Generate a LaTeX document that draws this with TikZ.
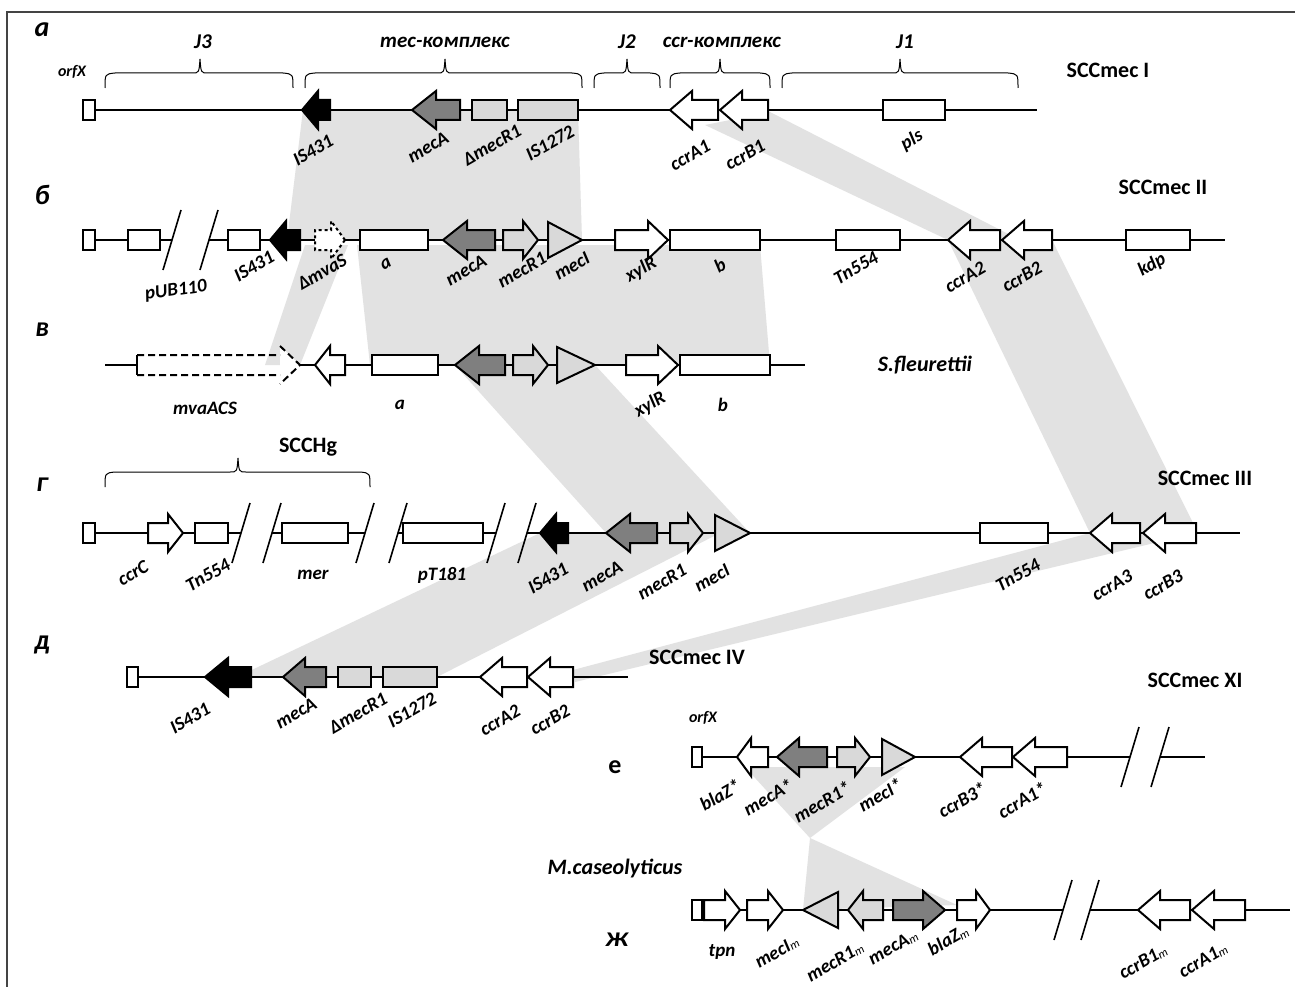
\documentclass[tikz,border=0pt]{standalone}
\usepackage{fontspec}
\setmainfont{Carlito}
\definecolor{gdark}{HTML}{7F7F7F}
\definecolor{glight}{HTML}{D9D9D9}
\definecolor{band}{HTML}{E2E2E2}
\definecolor{frame}{HTML}{444444}
% left-pointing gene: tip x, tail x, y, head length, options
\newcommand\lgene[5]{\filldraw[gene,#5] (#1,#3) -- (#1+#4,#3-19) -- (#1+#4,#3-10) -- (#2,#3-10) -- (#2,#3+10) -- (#1+#4,#3+10) -- (#1+#4,#3+19) -- cycle;}
% right-pointing gene: tail x, tip x, y, head length, options
\newcommand\rgene[5]{\filldraw[gene,#5] (#2,#3) -- (#2-#4,#3-19) -- (#2-#4,#3-10) -- (#1,#3-10) -- (#1,#3+10) -- (#2-#4,#3+10) -- (#2-#4,#3+19) -- cycle;}
\newcommand\gbox[4]{\filldraw[gene,#4] (#1,#3-10) rectangle (#2,#3+10);}
\newcommand\gtri[4]{\filldraw[gene,#4] (#1,#3-18) -- (#2,#3) -- (#1,#3+18) -- cycle;}
\newcommand\gslash[2]{\draw[slashline] (#1-9,#2+30) -- (#1+9,#2-30);}
% curly brace opening downwards: x1, x2, y of the ends, x of the tip
\newcommand\gbrace[4]{\draw[braceline] (#1,#3) .. controls (#1,#3-14) .. (#1+10,#3-15) -- (#4-8,#3-15) .. controls (#4-1,#3-15) .. (#4,#3-29) .. controls (#4+1,#3-15) .. (#4+8,#3-15) -- (#2-10,#3-15) .. controls (#2,#3-14) .. (#2,#3);}
\newcommand\sm{\raisebox{-1pt}{\fontsize{12}{12}\selectfont\mdseries m}}
\begin{document}
\begin{tikzpicture}[x=1pt,y=-1pt,
  gene/.style={draw=black,fill=white,line width=2pt,line join=miter},
  backbone/.style={draw=black,line width=1.8pt},
  slashline/.style={draw=black,line width=1.6pt},
  braceline/.style={draw=black,line width=1pt},
  shade/.style={fill=band,draw=none},
  lbl/.style={font=\fontsize{19}{19}\selectfont\bfseries\itshape,inner sep=0pt,rotate=30},
  flat/.style={font=\fontsize{19}{19}\selectfont\bfseries\itshape,inner sep=0pt},
  small/.style={font=\fontsize{16}{16}\selectfont\bfseries\itshape,inner sep=0pt},
  head/.style={font=\fontsize{21}{21}\selectfont\bfseries\itshape,inner sep=0pt},
  rowtag/.style={font=\fontsize{28}{28}\selectfont\bfseries\itshape,inner sep=0pt},
  title/.style={font=\fontsize{22}{22}\selectfont\bfseries,inner sep=0pt},
  ititle/.style={font=\fontsize{22}{22}\selectfont\bfseries\itshape,inner sep=0pt}]
\useasboundingbox (0,0) rectangle (1295,987);
\fill[white] (0,0) rectangle (1295,987);
% frame
\draw[frame,line width=2pt] (1295,12) -- (7,12) -- (7,987);

% homology bands
\fill[shade] (303,110) -- (578,110) -- (582,240) -- (287,240) -- cycle;
\fill[shade] (305,245) -- (348,245) -- (300,365) -- (265,365) -- cycle;
\fill[shade] (357,245) -- (760,245) -- (770,365) -- (370,365) -- cycle;
\fill[shade] (455,365) -- (595,365) -- (750,533) -- (606,533) -- cycle;
\fill[shade] (540,533) -- (720,533) -- (437,677) -- (237,677) -- cycle;
\fill[shade] (705,125) -- (770,112) -- (1020,240) -- (948,240) -- cycle;
\fill[shade] (948,240) -- (1052,240) -- (1198,533) -- (1090,533) -- cycle;
\fill[shade] (1090,533) -- (1196,533) -- (575,682) -- (573,670) -- cycle;
\fill[shade] (745,767) -- (905,767) -- (810,838) -- cycle;
\fill[shade] (810,838) -- (957,905) -- (803,910) -- cycle;

% ---------- row a: SCCmec I ----------
\node[rowtag] (tag-a) at (42,30) {а};
\node[small] (a-orfx) at (72,72) {orfX};
\gbrace{105}{293}{88}{200}
\gbrace{305}{582}{88}{445}
\gbrace{594}{660}{88}{627}
\gbrace{670}{770}{88}{720}
\gbrace{782}{1018}{88}{900}
\node[head] (a-j3) at (203,42) {J3};
\node[head] (a-mec) at (445,42) {mec-комплекс};
\node[head] (a-j2) at (627,42) {J2};
\node[head] (a-ccr) at (722,42) {ccr-комплекс};
\node[head] (a-j1) at (905,42) {J1};
\node[title] (a-title) at (1108,70) {SCCmec I};
\draw[backbone] (95,110) -- (1037,110);
\gbox{83}{95}{110}{}
\lgene{302}{330}{110}{16}{fill=black}
\lgene{412}{460}{110}{24}{fill=gdark}
\gbox{472}{507}{110}{fill=glight}
\gbox{518}{578}{110}{fill=glight}
\lgene{670}{718}{110}{22}{}
\lgene{720}{768}{110}{22}{}
\gbox{883}{945}{110}{}
\node[lbl] (a-is431) at (313,150) {IS431};
\node[lbl] (a-meca) at (428,147) {mecA};
\node[lbl] (a-mecr1) at (492,145) {ΔmecR1};
\node[lbl] (a-is1272) at (550,143) {IS1272};
\node[lbl] (a-ccra1) at (690,155) {ccrA1};
\node[lbl] (a-ccrb1) at (745,155) {ccrB1};
\node[lbl] (a-pls) at (912,140) {pls};

% ---------- row b: SCCmec II ----------
\node[rowtag] (tag-b) at (42,195) {б};
\node[title] (b-title) at (1163,187) {SCCmec II};
\draw[backbone] (95,240) -- (172,240);
\draw[backbone] (209,240) -- (1225,240);
\gbox{83}{95}{240}{}
\gbox{128}{160}{240}{}
\gslash{172}{240}
\gslash{209}{240}
\gbox{228}{260}{240}{}
\lgene{270}{300}{240}{16}{fill=black}
\rgene{315}{345}{240}{14}{dashed}
\gbox{360}{428}{240}{}
\lgene{443}{495}{240}{24}{fill=gdark}
\rgene{503}{538}{240}{15}{fill=glight}
\gtri{548}{582}{240}{fill=glight}
\rgene{615}{668}{240}{20}{}
\gbox{670}{760}{240}{}
\gbox{836}{900}{240}{}
\lgene{948}{1000}{240}{22}{}
\lgene{1002}{1052}{240}{22}{}
\gbox{1126}{1190}{240}{}
\node[flat,rotate=8] (b-pub) at (176,291) {pUB110};
\node[lbl] (b-is431) at (254,266) {IS431};
\node[lbl] (b-mvas) at (322,272) {ΔmvaS};
\node[lbl] (b-a) at (386,264) {a};
\node[lbl] (b-meca) at (466,270) {mecA};
\node[lbl] (b-mecr1) at (522,270) {mecR1};
\node[lbl] (b-meci) at (572,266) {mecI};
\node[lbl] (b-xylr) at (641,270) {xylR};
\node[lbl] (b-b) at (720,265) {b};
\node[lbl] (b-tn) at (856,268) {Tn554};
\node[lbl] (b-ccra2) at (965,277) {ccrA2};
\node[lbl] (b-ccrb2) at (1022,277) {ccrB2};
\node[lbl] (b-kdp) at (1152,265) {kdp};

% ---------- row c: S. fleurettii ----------
\node[rowtag] (tag-c) at (42,330) {в};
\node[ititle] (c-title) at (925,365) {S.fleurettii};
\draw[backbone] (105,365) -- (137,365);
\draw[backbone] (300,365) -- (805,365);
\draw[gene] (137,355) -- (137,375);
\draw[gene,dash pattern=on 7pt off 4pt] (137,355) -- (280,355) (137,375) -- (280,375)
  (280,346) -- (300,365) -- (280,384);
\lgene{315}{345}{365}{15}{}
\gbox{372}{438}{365}{}
\lgene{455}{505}{365}{24}{fill=gdark}
\rgene{513}{548}{365}{15}{fill=glight}
\gtri{557}{595}{365}{fill=glight}
\rgene{626}{678}{365}{20}{}
\gbox{680}{770}{365}{}
\node[flat] (c-mva) at (205,408) {mvaACS};
\node[flat] (c-a) at (400,405) {a};
\node[lbl] (c-xylr) at (650,405) {xylR};
\node[flat] (c-b) at (723,405) {b};

% ---------- row d: SCCmec III ----------
\node[rowtag] (tag-d) at (42,485) {г};
\node[title] (d-hg) at (308,447) {SCCHg};
\gbrace{105}{370}{487}{238}
\node[title] (d-title) at (1205,478) {SCCmec III};
\draw[backbone] (95,533) -- (241,533);
\draw[backbone] (272,533) -- (365,533);
\draw[backbone] (398,533) -- (496,533);
\draw[backbone] (527,533) -- (1240,533);
\gbox{83}{95}{533}{}
\rgene{148}{183}{533}{15}{}
\gbox{195}{228}{533}{}
\gslash{241}{533}
\gslash{272}{533}
\gbox{282}{348}{533}{}
\gslash{365}{533}
\gslash{398}{533}
\gbox{403}{483}{533}{}
\gslash{496}{533}
\gslash{527}{533}
\lgene{540}{568}{533}{16}{fill=black}
\lgene{606}{657}{533}{24}{fill=gdark}
\rgene{670}{703}{533}{15}{fill=glight}
\gtri{715}{750}{533}{fill=glight}
\gbox{980}{1048}{533}{}
\lgene{1090}{1140}{533}{22}{}
\lgene{1143}{1196}{533}{22}{}
\node[lbl] (d-ccrc) at (133,573) {ccrC};
\node[lbl] (d-tn1) at (208,575) {Tn554};
\node[flat] (d-mer) at (313,575) {mer};
\node[flat] (d-pt) at (442,575) {pT181};
\node[lbl] (d-is431) at (548,578) {IS431};
\node[lbl] (d-meca) at (602,576) {mecA};
\node[lbl] (d-mecr1) at (662,582) {mecR1};
\node[lbl] (d-meci) at (712,578) {mecI};
\node[lbl] (d-tn2) at (1018,575) {Tn554};
\node[lbl] (d-ccra3) at (1112,585) {ccrA3};
\node[lbl] (d-ccrb3) at (1163,585) {ccrB3};

% ---------- row e: SCCmec IV ----------
\node[rowtag] (tag-e) at (42,645) {д};
\node[title] (e-title) at (697,657) {SCCmec IV};
\draw[backbone] (138,677) -- (628,677);
\gbox{127}{138}{677}{}
\lgene{205}{251}{677}{23}{fill=black}
\lgene{283}{326}{677}{22}{fill=gdark}
\gbox{338}{371}{677}{fill=glight}
\gbox{383}{437}{677}{fill=glight}
\lgene{480}{527}{677}{22}{}
\lgene{528}{573}{677}{22}{}
\node[lbl] (e-is431) at (190,718) {IS431};
\node[lbl] (e-meca) at (296,713) {mecA};
\node[lbl] (e-mecr1) at (358,713) {ΔmecR1};
\node[lbl] (e-is1272) at (412,710) {IS1272};
\node[lbl] (e-ccra2) at (500,720) {ccrA2};
\node[lbl] (e-ccrb2) at (550,720) {ccrB2};

% ---------- row f: SCCmec XI ----------
\node[title] (f-title) at (1195,680) {SCCmec XI};
\node[small] (f-orfx) at (703,718) {orfX};
\node[font=\fontsize{26}{26}\selectfont\bfseries,inner sep=0pt] (tag-f) at (615,767) {е};
\draw[backbone] (702,757) -- (1130,757);
\draw[backbone] (1160,757) -- (1205,757);
\gbox{692}{702}{757}{}
\lgene{737}{768}{757}{14}{}
\lgene{777}{827}{757}{22}{fill=gdark}
\rgene{837}{870}{757}{15}{fill=glight}
\gtri{882}{915}{757}{fill=glight}
\lgene{960}{1012}{757}{22}{}
\lgene{1013}{1067}{757}{22}{}
\gslash{1130}{757}
\gslash{1160}{757}
\node[lbl] (f-blaz) at (720,795) {blaZ*};
\node[lbl] (f-meca) at (768,797) {mecA*};
\node[lbl] (f-mecr1) at (822,802) {mecR1*};
\node[lbl] (f-meci) at (880,795) {mecI*};
\node[lbl] (f-ccrb3) at (962,800) {ccrB3*};
\node[lbl] (f-ccra1) at (1022,800) {ccrA1*};

% ---------- row g: M. caseolyticus ----------
\node[ititle] (g-title) at (615,868) {M.caseolyticus};
\node[rowtag] (tag-g) at (617,940) {ж};
\draw[backbone] (702,910) -- (1063,910);
\draw[backbone] (1090,910) -- (1290,910);
\gbox{692}{702}{910}{}
\rgene{704}{740}{910}{15}{}
\rgene{747}{783}{910}{15}{}
\gtri{838}{803}{910}{fill=glight}
\lgene{848}{883}{910}{15}{fill=glight}
\rgene{893}{945}{910}{22}{fill=gdark}
\rgene{957}{990}{910}{14}{}
\gslash{1063}{910}
\gslash{1090}{910}
\lgene{1138}{1190}{910}{22}{}
\lgene{1192}{1245}{910}{22}{}
\node[flat] (g-tpn) at (722,952) {tpn};
\node[lbl] (g-meci) at (777,952) {mecI\sm};
\node[lbl] (g-mecr1) at (835,962) {mecR1\sm};
\node[lbl] (g-meca) at (893,947) {mecA\sm};
\node[lbl] (g-blaz) at (948,940) {blaZ\sm};
\node[lbl] (g-ccrb1) at (1143,962) {ccrB1\sm};
\node[lbl] (g-ccra1) at (1203,960) {ccrA1\sm};
\end{tikzpicture}
\end{document}
